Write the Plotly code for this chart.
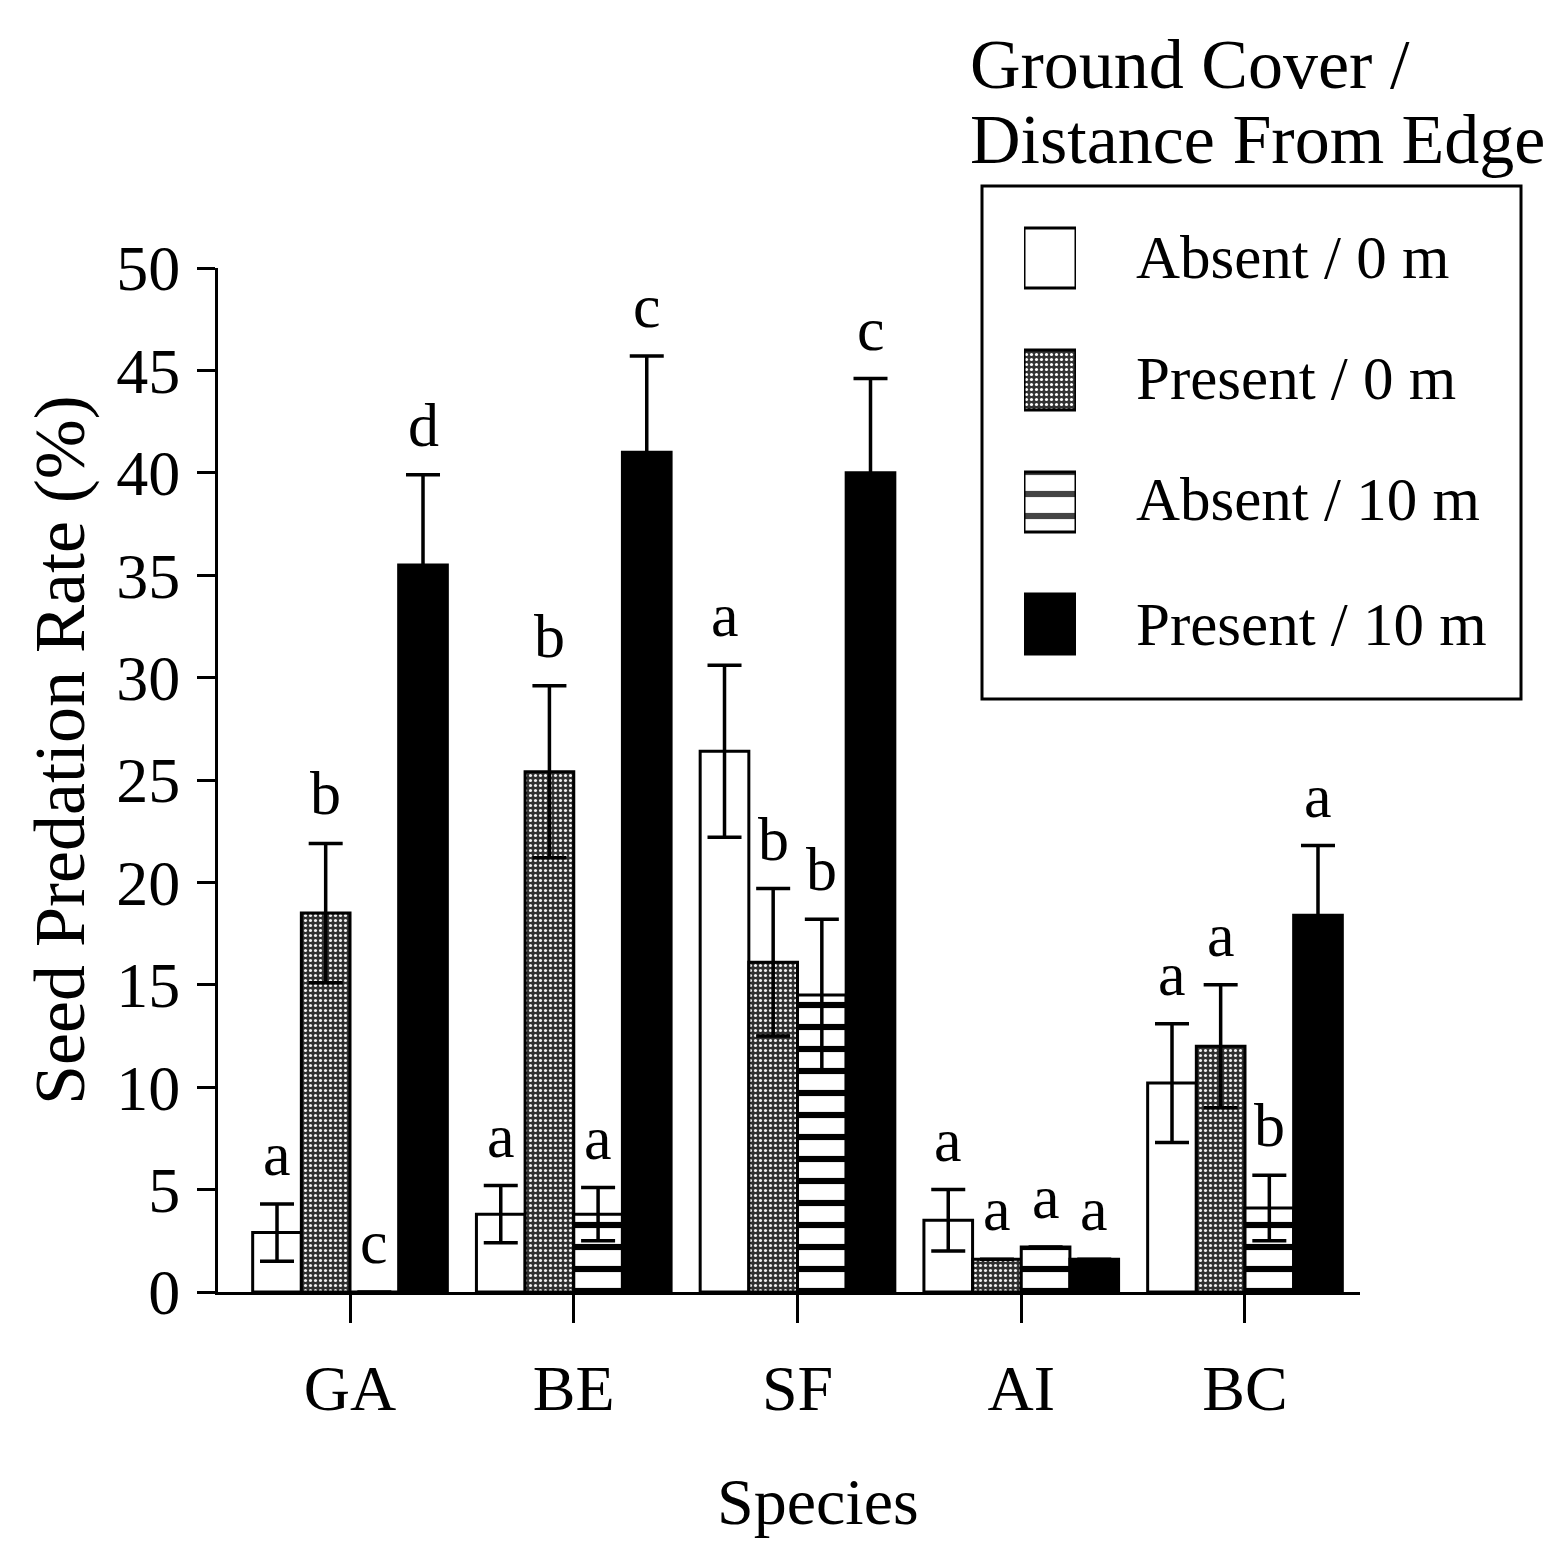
import plotly.graph_objects as go

# ---------------- data ----------------
species = ["GA", "BE", "SF", "AI", "BC"]
series_names = ["Absent / 0 m", "Present / 0 m", "Absent / 10 m", "Present / 10 m"]

absent_0m = [2.9, 3.8, 26.4, 3.5, 10.2]
absent_0m_se = [1.4, 1.4, 4.2, 1.5, 2.9]
present_0m = [18.5, 25.4, 16.1, 1.6, 12.0]
present_0m_se = [3.4, 4.2, 3.6, 0.0, 3.0]
absent_10m = [0.0, 3.8, 14.5, 2.2, 4.1]
absent_10m_se = [0.0, 1.3, 3.7, 0.0, 1.6]
present_10m = [35.5, 41.0, 40.0, 1.6, 18.4]
present_10m_se = [4.4, 4.7, 4.6, 0.0, 3.4]

letters_absent_0m = ["a", "a", "a", "a", "a"]
letters_present_0m = ["b", "b", "b", "a", "a"]
letters_absent_10m = ["c", "a", "b", "a", "b"]
letters_present_10m = ["d", "c", "c", "a", "a"]

y_ticks = [0, 5, 10, 15, 20, 25, 30, 35, 40, 45, 50]

legend_title_lines = ["Ground Cover /", "Distance From Edge"]

# ---------------- styling ----------------
WIN_W, WIN_H = 1557, 1548
BODY = 8  # default page margin around the plot div
W, H = WIN_W - 2 * BODY, WIN_H - 2 * BODY
FONT = "Liberation Serif"


def px(x):
    """window pixel x -> paper fraction"""
    return (x - BODY) / W


def py(y):
    """window pixel y -> paper fraction"""
    return 1 - (y - BODY) / H


styles = [
    dict(color="white", pattern=dict(shape="", bgcolor="white", fgcolor="black",
                                     size=8, solidity=0.3)),
    dict(color="#333333", pattern=dict(shape=".", bgcolor="#303030", fgcolor="#f0f0f0",
                                       size=5, solidity=0.3)),
    dict(color="white", pattern=dict(shape="-", bgcolor="white", fgcolor="black",
                                     size=22, solidity=0.28)),
    dict(color="black", pattern=dict(shape="", bgcolor="black", fgcolor="black",
                                     size=8, solidity=0.3)),
]

values = [absent_0m, present_0m, absent_10m, present_10m]
errors = [absent_0m_se, present_0m_se, absent_10m_se, present_10m_se]
letters = [letters_absent_0m, letters_present_0m, letters_absent_10m, letters_present_10m]

fig = go.Figure()

for name, vals, errs, st in zip(series_names, values, errors, styles):
    pat = dict(st["pattern"], fillmode="overlay", fgopacity=1)
    fig.add_trace(go.Bar(
        x=species, y=vals, name=name, showlegend=False,
        marker=dict(color=st["color"], pattern=pat,
                    line=dict(color="black", width=3)),
        error_y=dict(type="data", array=errs, visible=True, color="black",
                     thickness=3.5, width=17),
        xaxis="x", yaxis="y",
    ))

# legend swatches drawn as bars on a small auxiliary subplot
fig.add_trace(go.Bar(
    y=list(range(len(series_names))), x=[1] * len(series_names), base=0,
    orientation="h", width=0.49, showlegend=False, hoverinfo="skip",
    marker=dict(
        color=[s["color"] for s in styles],
        pattern=dict(
            shape=[s["pattern"]["shape"] for s in styles],
            bgcolor=[s["pattern"]["bgcolor"] for s in styles],
            fgcolor=[s["pattern"]["fgcolor"] for s in styles],
            size=[s["pattern"]["size"] for s in styles],
            solidity=[s["pattern"]["solidity"] for s in styles],
            fillmode="overlay", fgopacity=1,
        ),
        line=dict(color="black", width=3),
    ),
    xaxis="x2", yaxis="y2",
))

# significance letters
annotations = []
n_series = len(series_names)
group_width = 0.87
bar_w = group_width / n_series
for j in range(n_series):
    off = (j - (n_series - 1) / 2) * bar_w
    for i in range(len(species)):
        annotations.append(dict(
            x=i + off, y=values[j][i] + errors[j][i], xref="x", yref="y",
            text=letters[j][i], showarrow=False, yanchor="middle", yshift=50,
            font=dict(family=FONT, size=62, color="black"),
        ))

# axis titles
annotations.append(dict(
    x=px(60), y=py(750), xref="paper", yref="paper", text="Seed Predation Rate (%)",
    textangle=-90, showarrow=False, xanchor="center", yanchor="middle",
    font=dict(family=FONT, size=72, color="black")))
annotations.append(dict(
    x=px(818), y=0, xref="paper", yref="paper", text="Species",
    showarrow=False, xanchor="center", yanchor="bottom",
    font=dict(family=FONT, size=66, color="black")))

# legend title (two lines) + labels
for line, yc in zip(legend_title_lines, [65, 140]):
    annotations.append(dict(
        x=px(968), y=py(yc), xref="paper", yref="paper", text=line,
        showarrow=False, xanchor="left", yanchor="middle",
        font=dict(family=FONT, size=70, color="black")))

row_centers_px = [258, 378, 500, 624]
for name, yc in zip(series_names, row_centers_px):
    annotations.append(dict(
        x=px(1134), y=py(yc), xref="paper", yref="paper", text=name,
        showarrow=False, xanchor="left", yanchor="middle",
        font=dict(family=FONT, size=61, color="black")))

shapes = [dict(
    type="rect", xref="paper", yref="paper",
    x0=px(982), x1=px(1521), y0=py(186), y1=py(699),
    line=dict(color="black", width=3), fillcolor="rgba(0,0,0,0)", layer="below")]

fig.update_layout(
    width=W, height=H,
    margin=dict(l=0, r=0, t=0, b=0, pad=0, autoexpand=False),
    paper_bgcolor="white", plot_bgcolor="white",
    barmode="group", bargap=0.13, bargroupgap=0.0,
    showlegend=False,
    font=dict(family=FONT, size=64, color="black"),
    xaxis=dict(
        domain=[px(218), px(1360)], range=[-0.59, 4.514], type="category",
        showline=True, linecolor="black", linewidth=3,
        ticks="outside", ticklen=28, tickwidth=3, tickcolor="black",
        showgrid=False, zeroline=False, ticklabelstandoff=10, automargin=False,
        tickfont=dict(family=FONT, size=64, color="black"),
        anchor="y",
    ),
    yaxis=dict(
        domain=[py(1292), py(268)], range=[0, 50],
        tickvals=y_ticks, ticktext=[str(v) for v in y_ticks],
        showline=True, linecolor="black", linewidth=3,
        ticks="outside", ticklen=18, tickwidth=3, tickcolor="black",
        showgrid=False, zeroline=False, ticklabelstandoff=4, automargin=False,
        tickfont=dict(family=FONT, size=64, color="black"),
        anchor="x",
    ),
    xaxis2=dict(domain=[px(1024), px(1076)], range=[0, 1], visible=False,
                anchor="y2", fixedrange=True, automargin=False),
    yaxis2=dict(domain=[py(624 + 61), py(258 - 61)], range=[3.5, -0.5],
                visible=False, anchor="x2", fixedrange=True, automargin=False),
    annotations=annotations,
    shapes=shapes,
)

fig.write_html("out.html")
